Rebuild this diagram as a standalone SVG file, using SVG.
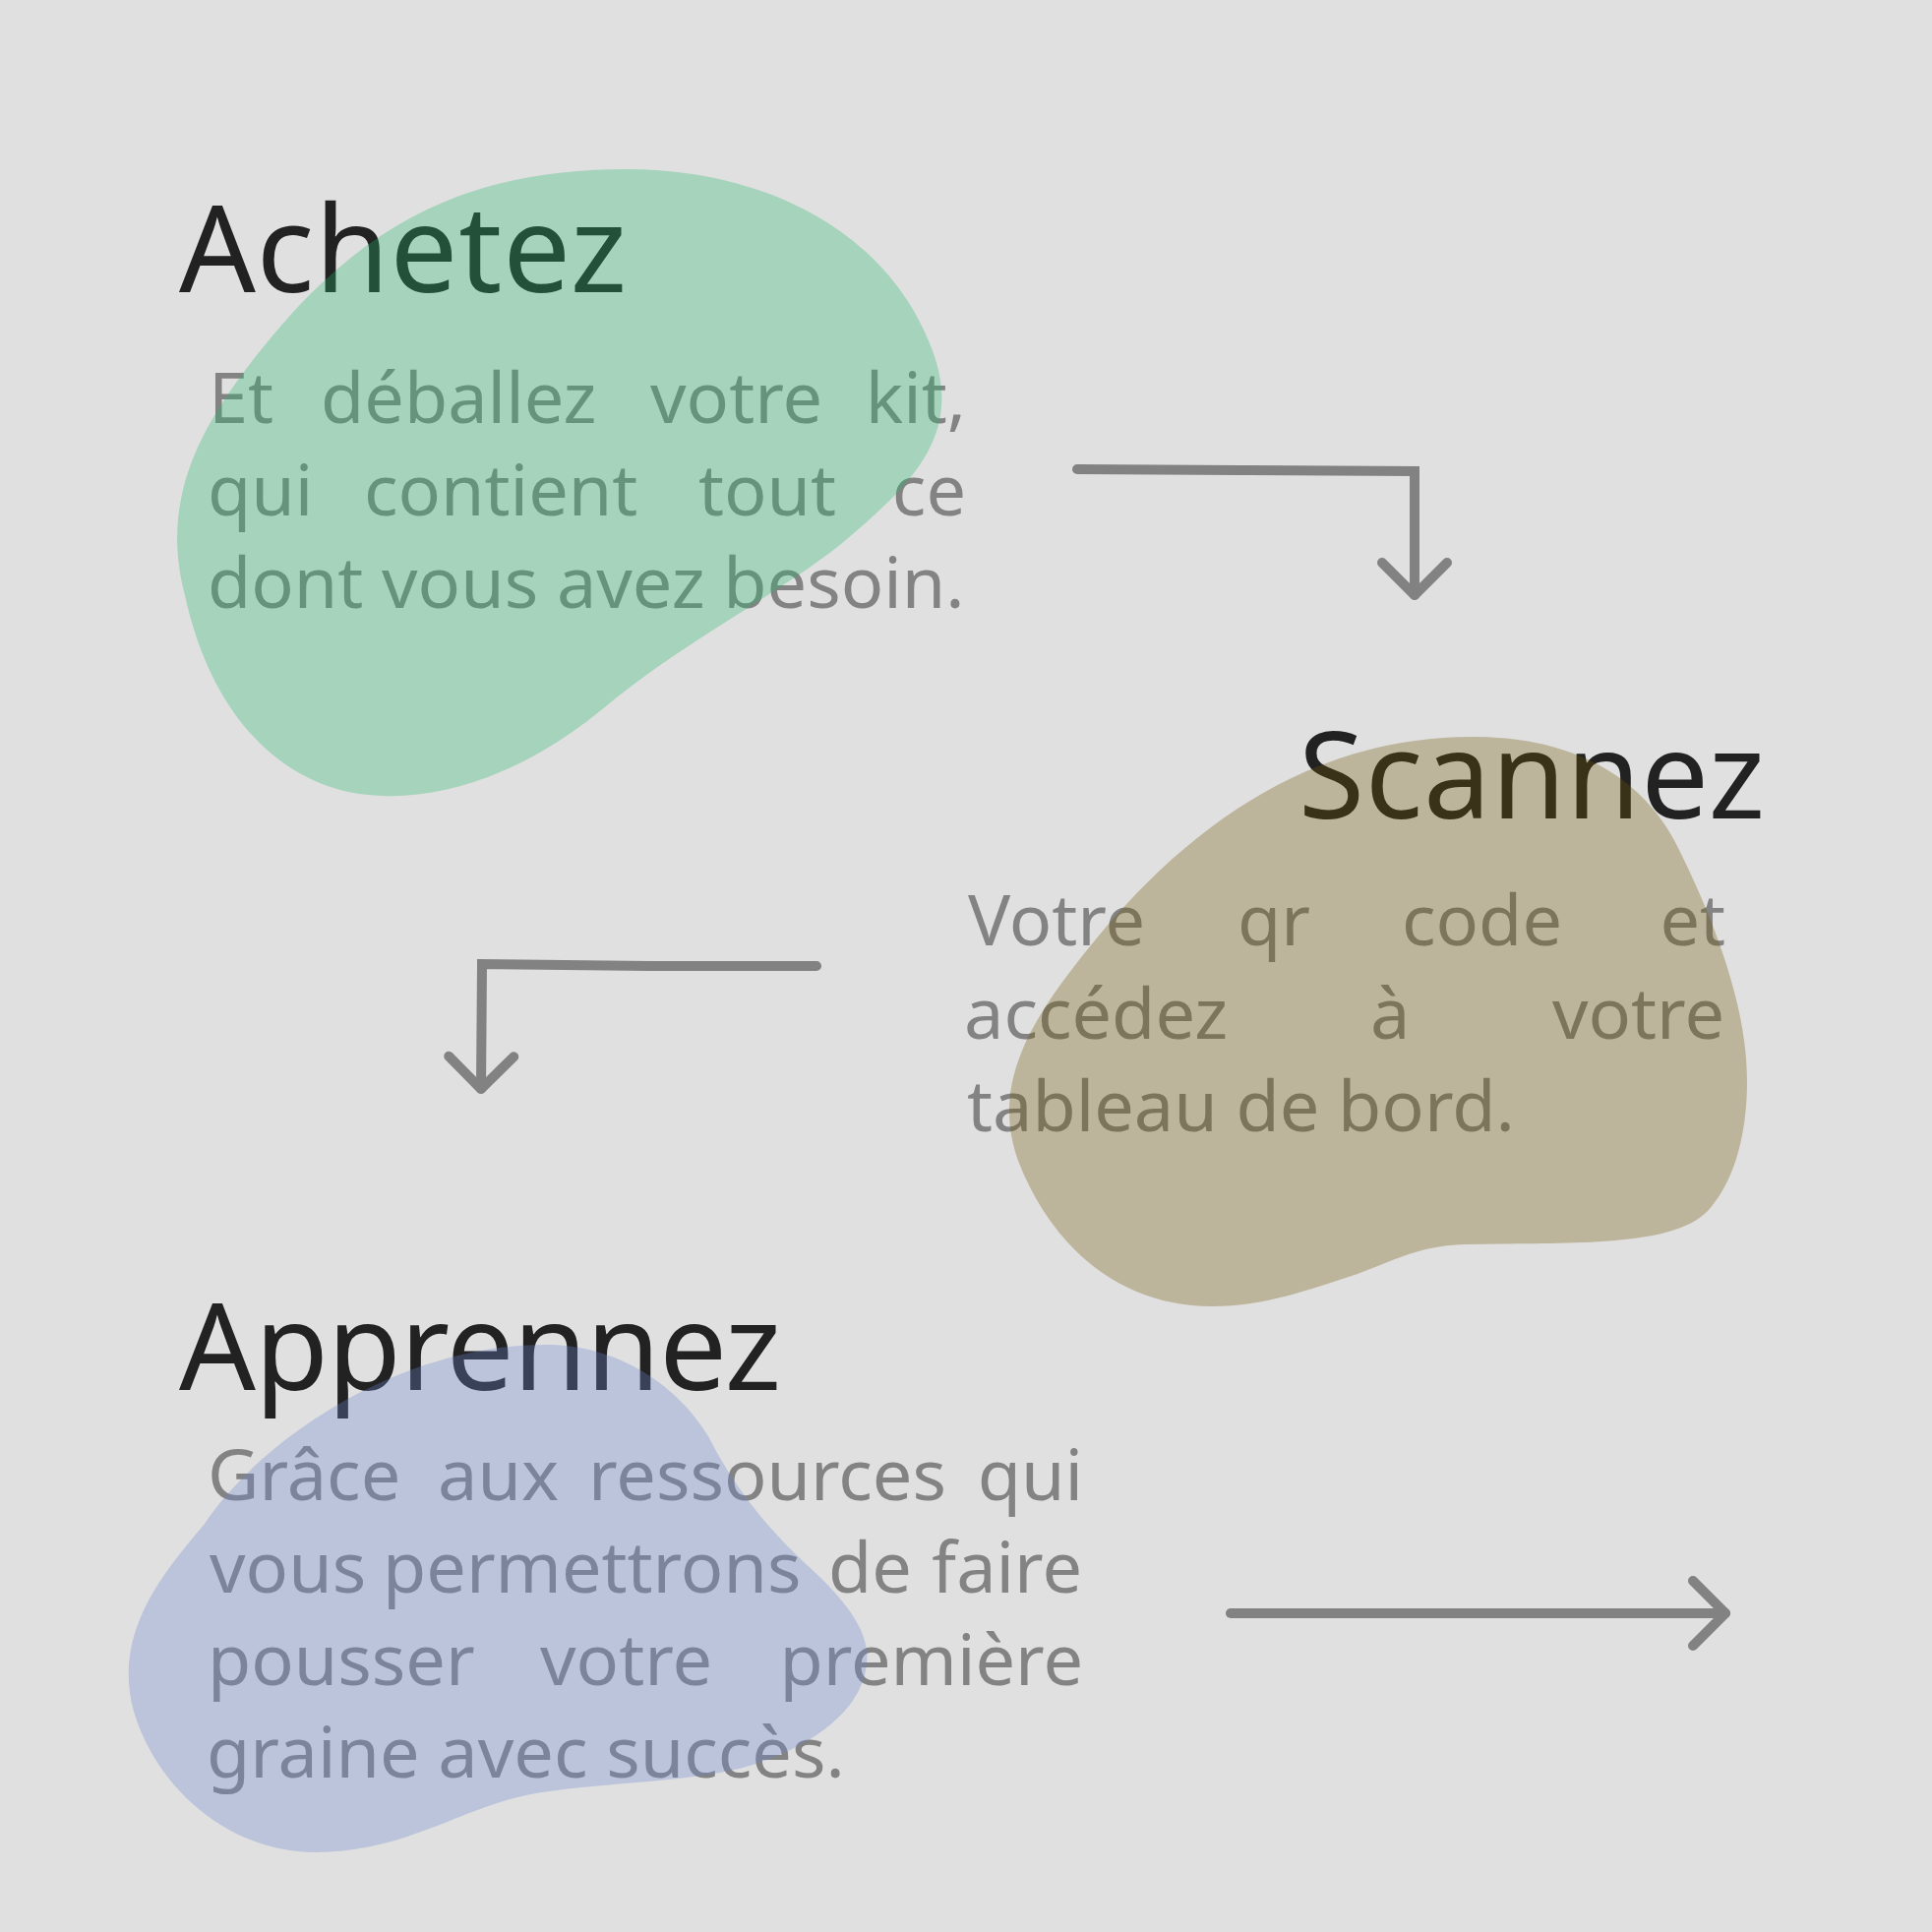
<svg xmlns="http://www.w3.org/2000/svg" width="1964" height="1964" viewBox="0 0 1964 1964">
  <defs>
    <style>
      .title { font-family: "Noto Sans", "Open Sans", sans-serif; font-size: 122px; fill: #222222; }
      .body { font-family: "Noto Sans", "Open Sans", sans-serif; font-size: 72px; fill: #838383; }
      .end { text-anchor: end; }
      .blob { opacity: 0.31; }
      .conn { fill: none; stroke: #828282; stroke-width: 10; stroke-linecap: round; stroke-linejoin: miter; }
    </style>
    <marker id="head" viewBox="-40 -40 50 80" markerWidth="50" markerHeight="80" markerUnits="userSpaceOnUse" refX="0" refY="0" orient="auto" overflow="visible">
      <path d="M -33 -33 L 0 0 L -33 33" fill="none" stroke="#828282" stroke-width="10" stroke-linecap="round" stroke-linejoin="round"/>
    </marker>
  </defs>
  <rect x="0" y="0" width="1964" height="1964" fill="#e0e0e0"/>

  <g id="node-achetez">
    <text class="title" x="182" y="297" textLength="455" lengthAdjust="spacing">Achetez</text>
    <text class="body"><tspan x="212" y="430">Et</tspan><tspan x="326" y="430">déballez</tspan><tspan x="661" y="430">votre</tspan><tspan class="end" x="982" y="430">kit,</tspan><tspan x="211" y="524">qui</tspan><tspan x="370" y="524">contient</tspan><tspan x="710" y="524">tout</tspan><tspan class="end" x="982" y="524">ce</tspan><tspan x="211" y="618">dont vous avez besoin.</tspan></text>
    <path class="blob" fill="#25b96c" d="M 638 172 C 770 172 900 230 947 354 C 980 440 930 490 855 553 C 790 605 690 655 611 722 C 540 780 460 812 388 809 C 290 806 215 730 188 605 C 160 500 210 420 285 332 C 390 210 500 172 638 172 Z"/>
  </g>

  <g id="node-scannez">
    <text class="title" x="1320" y="832" textLength="474" lengthAdjust="spacing">Scannez</text>
    <text class="body"><tspan x="984" y="961">Votre</tspan><tspan x="1258" y="961">qr</tspan><tspan x="1425" y="961">code</tspan><tspan class="end" x="1754" y="961">et</tspan><tspan x="980" y="1056">accédez</tspan><tspan x="1393" y="1056">à</tspan><tspan class="end" x="1753" y="1056">votre</tspan><tspan x="983" y="1150">tableau de bord.</tspan></text>
    <path class="blob" fill="#725508" d="M 1497 749 C 1600 749 1670 790 1705 860 C 1740 930 1776 1020 1776 1099 C 1776 1160 1760 1205 1736 1231 C 1700 1268 1600 1263 1490 1265 C 1445 1266 1420 1280 1380 1295 C 1320 1315 1280 1328 1232 1328 C 1140 1328 1070 1270 1035 1180 C 1010 1110 1040 1050 1090 985 C 1170 880 1300 749 1497 749 Z"/>
  </g>

  <g id="node-apprennez">
    <text class="title" x="182" y="1413" textLength="612" lengthAdjust="spacing">Apprennez</text>
    <text class="body"><tspan x="211" y="1525">Grâce</tspan><tspan x="445" y="1525">aux</tspan><tspan x="598" y="1525">ressources</tspan><tspan class="end" x="1101" y="1525">qui</tspan><tspan x="213" y="1619">vous</tspan><tspan x="389" y="1619">permettrons</tspan><tspan x="842" y="1619">de</tspan><tspan class="end" x="1100" y="1619">faire</tspan><tspan x="211" y="1713">pousser</tspan><tspan x="549" y="1713">votre</tspan><tspan class="end" x="1101" y="1713">première</tspan><tspan x="210" y="1807">graine avec succès.</tspan></text>
    <path class="blob" fill="#6986cd" d="M 555 1367 C 630 1367 690 1410 720 1460 C 745 1510 780 1555 827 1597 C 860 1628 885 1660 881 1690 C 878 1740 820 1780 751 1798 C 680 1815 570 1812 512 1831 C 450 1850 400 1883 320 1883 C 235 1883 160 1820 136 1740 C 114 1660 165 1600 208 1549 C 260 1470 400 1367 555 1367 Z"/>
  </g>

  <g id="connectors">
    <path class="conn" d="M 1095 477 L 1260 478 L 1438 479 L 1438 605" marker-end="url(#head)"/>
    <path class="conn" d="M 830 982 L 660 982 L 490 980 L 489 1107" marker-end="url(#head)"/>
    <path class="conn" d="M 1251 1640 L 1754 1640" marker-end="url(#head)"/>
  </g>
</svg>
